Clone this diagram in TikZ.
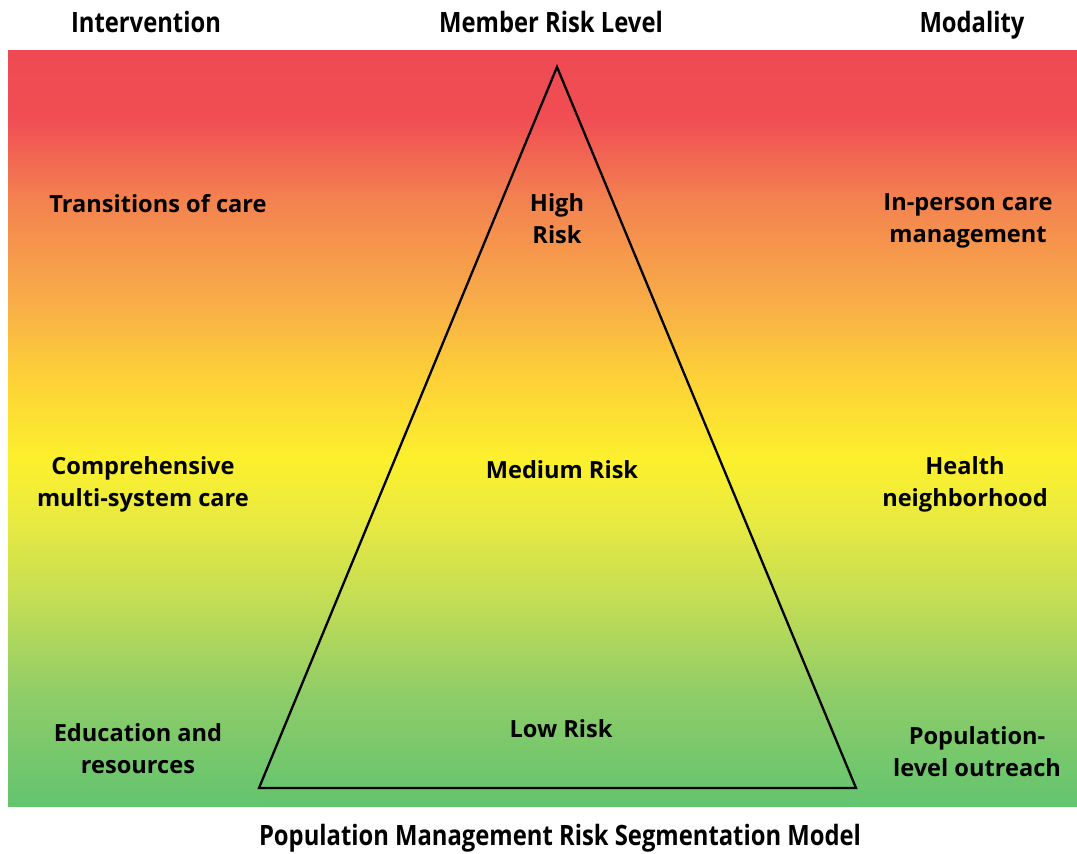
\documentclass[tikz,border=0pt]{standalone}
\usepackage{fontspec}
\setmainfont{Open Sans}
\definecolor{g0}{RGB}{99,196,110}
\definecolor{g1}{RGB}{140,204,105}
\definecolor{g2}{RGB}{195,221,85}
\definecolor{g3}{RGB}{232,234,65}
\definecolor{y0}{RGB}{252,240,45}
\definecolor{y1}{RGB}{253,210,55}
\definecolor{o0}{RGB}{248,172,72}
\definecolor{o1}{RGB}{243,130,80}
\definecolor{r0}{RGB}{240,78,83}
\definecolor{r1}{RGB}{239,74,83}
\pgfdeclareverticalshading{riskgrad}{100bp}{color(0bp)=(g0); color(25bp)=(g0); color(32bp)=(g1); color(38.6bp)=(g2); color(43.9bp)=(g3); color(47.9bp)=(y0); color(53.2bp)=(y1); color(58.5bp)=(o0); color(65.1bp)=(o1); color(70.4bp)=(r0); color(75bp)=(r1); color(100bp)=(r1)}
\tikzset{
  lbl/.style={font=\bfseries\fontsize{23.6}{32}\selectfont, align=center, inner sep=0pt, text=black},
  hdr/.style={font=\bfseries\fontsize{28}{32}\selectfont, inner sep=0pt, text=black},
}
\newcommand{\cond}[1]{\scalebox{0.85}[1]{#1}}
\begin{document}
\begin{tikzpicture}[x=1pt,y=-1pt]
\useasboundingbox (0,0) rectangle (1077,854);
\fill[white] (0,0) rectangle (1077,854);
\shade[shading=riskgrad] (8,50) rectangle (1077,806);
\coordinate (apex) at (557,67);
\coordinate (br) at (856,788);
\coordinate (bl) at (259,788);
\draw[line width=2.3pt, line join=miter] (apex) -- (br) -- (bl) -- cycle;
% headers
\node[hdr] (h1) at (146,22) {\cond{Intervention}};
\node[hdr] (h2) at (551,22) {\cond{Member Risk Level}};
\node[hdr] (h3) at (972,25) {\cond{Modality}};
\node[hdr] (title) at (560,838) {\cond{Population Management Risk Segmentation Model}};
% left column
\node[lbl] (i1) at (158,204) {Transitions of care};
\node[lbl] (i2) at (143,484) {Comprehensive\\multi-system care};
\node[lbl] (i3) at (138,749) {Education and\\resources};
% center
\node[lbl] (r1) at (557,219) {High\\Risk};
\node[lbl] (r2) at (562,470) {Medium Risk};
\node[lbl] (r3) at (561,729) {Low Risk};
% right column
\node[lbl] (m1) at (968,220.5) {In-person care\\management};
\node[lbl] (m2) at (965,484) {Health\\neighborhood};
\node[lbl] (m3) at (977,751.5) {Population-\\level outreach};
\end{tikzpicture}
\end{document}
